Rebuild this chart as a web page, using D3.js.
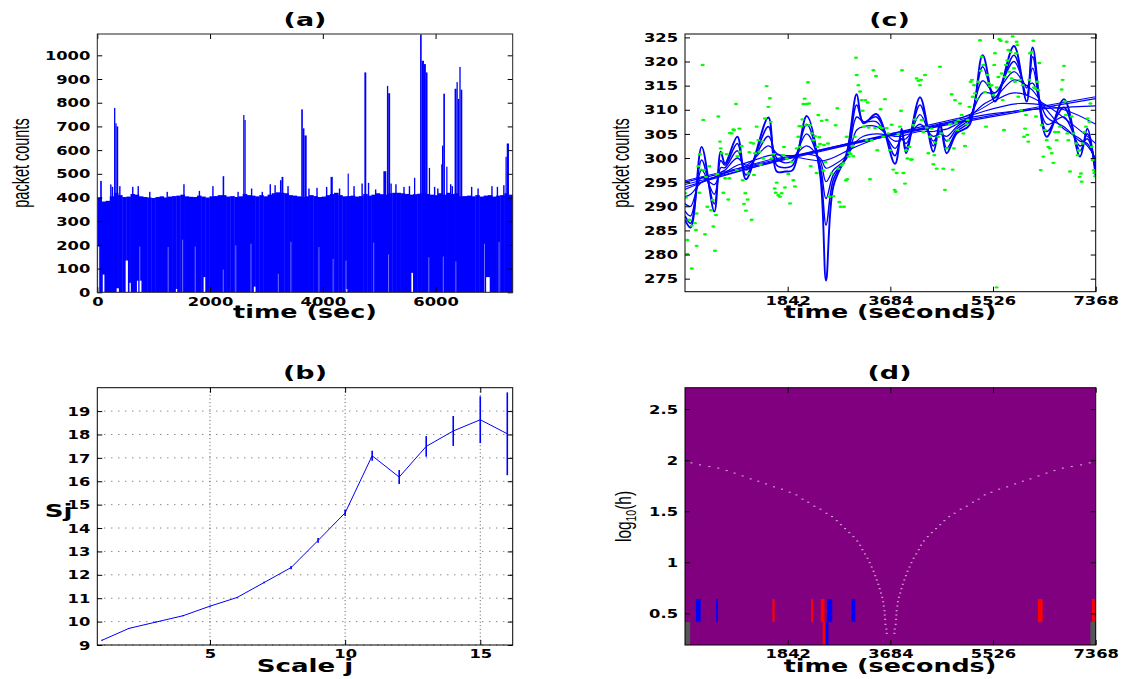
<!DOCTYPE html>
<html><head><meta charset="utf-8">
<script src="https://cdn.jsdelivr.net/npm/d3@7"></script>
<style>body{margin:0;background:#fff}</style>
</head><body><svg id="chart" width="1146" height="679"></svg>
<script>
// ================= DATA =================
// (a) packet counts per second, summarised: envelope maxima per bin, thin peaks, spikes, gaps near zero
const aBinSeconds = 73.68;
const aEnvelope = [
 400,383,386,405,420,410,402,404,415,412,
 405,402,400,398,402,405,400,404,406,408,
 412,405,403,402,408,404,400,405,406,410,
 410,404,406,402,405,415,410,408,405,410,
 405,412,418,422,420,418,410,408,405,402,
 405,410,406,402,404,410,415,420,410,405,
 406,408,404,406,415,408,412,418,414,412,
 418,420,420,418,415,412,414,416,420,415,
 412,410,418,412,420,415,418,405,406,408,
 405,410,404,408,410,404,408,410,418,412];
const aPeaks = [ // [t, count] narrow peaks on top of the dense band
 [240,455],[269,445],[400,448],[629,445],[726,448],[931,424],[1240,424],[1537,456],[1811,428],
 [2051,448],[2497,424],[2737,438],[2926,424],[3068,456],[3154,452],[3383,448],[3754,438],[3897,441],
 [4068,445],[4297,438],[4554,448],[4697,459],[4811,462],[4937,434],[5211,459],[5297,456],[5440,445],
 [5537,448],[5983,445],[6040,438],[6268,456],[6297,448],[6640,445],[6754,438],[7000,448],[7097,445],[7211,452]];
const aSpikes = [ // [t0, t1, count]
 [51,80,470],[297,320,778],[320,343,713],[343,371,700],[2223,2251,490],
 [2588,2610,748],[2610,2632,727],[3240,3268,473],[3268,3300,487],
 [3617,3646,772],[3646,3674,692],[3674,3714,662],[4137,4177,487],[4440,4457,501],
 [4737,4771,928],[5074,5126,511],[5137,5160,871],[5160,5194,840],[5617,5640,483],
 [5725,5754,1088],[5754,5794,977],[5794,5828,963],[5828,5857,928],[5880,5903,525],
 [6100,6114,540],[6114,6137,619],[6137,6166,838],[6189,6211,530],
 [6337,6371,859],[6371,6394,887],[6394,6422,816],[6422,6445,951],[6445,6474,855],
 [7240,7262,572],[7262,7302,628]];
const aGaps = [ // [t0, t1, lowest count] : columns that never go down to zero
 [14,34,193],[97,126,75],[343,383,17],[503,543,134],[571,594,40],[703,726,49],
 [754,783,49],[1394,1417,14],[1886,1914,64],[2777,2806,24],[4417,4434,14],
 [5571,5600,82],[6897,6960,64]];
const aThinGaps = [ // [t, lowest count]
 [754,193],[1257,191],[1514,222],[1737,193],[2234,96],[2457,198],[2726,205],
 [3211,78],[3434,213],[3931,191],[4183,141],[4411,134],[4903,210],[5166,160],
 [5880,148],[6137,151],[6360,130],[6868,205],[7126,213]];
const aXTicks = [0,2000,4000,6000];
const aYTicks = [0,100,200,300,400,500,600,700,800,900,1000];

// (b) scale j vs Sj with error bars
const bScale = [1,2,3,4,5,6,7,8,9,10,11,12,13,14,15,16];
const bSj    = [9.2,9.71,9.98,10.25,10.66,11.03,11.67,12.31,13.47,14.65,17.09,16.18,17.49,18.15,18.63,18.03];
const bErr   = [0.02,0.02,0.02,0.02,0.02,0.02,0.03,0.07,0.1,0.14,0.21,0.3,0.44,0.64,1.0,1.77];
const bXTicks = [5,10,15];
const bYTicks = [9,10,11,12,13,14,15,16,17,18,19];

// (c) binned packet counts (green) and family of smooths (blue)
const cDots = [
 [0,292.7],[18,291.8],[42,283.0],[42,280.1],[120,277.1],[209,281.8],[197,285.1],[78,287.2],[120,286.0],[179,286.5],
 [209,288.5],[239,298.3],[257,292.8],[269,300.8],[281,297.6],[317,319.3],[329,307.9],[341,297.5],[359,284.2],[377,296.1],
 [401,289.9],[437,298.3],[466,289.2],[496,291.3],[508,285.8],[538,280.8],[556,288.2],[580,296.7],[598,308.6],[628,303.4],
 [640,302.0],[658,301.0],[688,292.8],[718,295.8],[748,300.8],[777,291.4],[795,295.8],[807,305.2],[837,305.1],[867,305.9],
 [879,305.8],[915,311.2],[927,297.5],[939,300.4],[975,306.1],[987,301.3],[1017,302.5],[1035,295.4],[1058,290.5],[1082,292.7],
 [1094,289.1],[1124,291.4],[1136,296.8],[1154,301.2],[1178,303.2],[1196,287.2],[1226,303.0],[1238,296.5],[1256,301.0],[1286,306.5],
 [1316,303.7],[1334,301.3],[1357,298.6],[1387,303.4],[1405,299.9],[1435,308.2],[1465,314.9],[1495,310.6],[1525,312.4],[1537,307.5],
 [1555,299.9],[1585,300.8],[1609,293.7],[1627,292.8],[1645,294.9],[1674,292.3],[1704,292.0],[1734,292.7],[1764,300.6],[1776,302.3],
 [1794,293.9],[1824,299.9],[1854,296.7],[1884,290.6],[1914,299.2],[1944,295.4],[1973,294.1],[2003,302.0],[2033,304.4],[2051,306.6],
 [2063,302.3],[2087,306.6],[2105,308.0],[2123,311.2],[2147,312.3],[2171,306.8],[2183,311.2],[2207,315.7],[2225,311.3],[2243,306.8],
 [2254,298.3],[2278,305.1],[2302,303.7],[2332,304.5],[2362,296.9],[2374,302.3],[2392,308.9],[2410,304.3],[2422,302.9],[2452,307.7],
 [2482,297.4],[2494,302.7],[2518,299.2],[2542,307.9],[2565,303.0],[2589,292.0],[2631,296.8],[2661,292.1],[2703,306.8],[2733,310.3],
 [2751,297.8],[2769,290.9],[2793,289.9],[2811,298.5],[2841,298.9],[2852,289.9],[2888,295.4],[2900,304.4],[2912,295.6],[2936,300.3],
 [2948,301.1],[2972,300.8],[3002,302.5],[3020,300.4],[3044,304.4],[3068,320.8],[3080,317.2],[3110,315.1],[3140,313.8],[3169,312.0],
 [3187,309.8],[3211,306.5],[3235,312.0],[3259,303.7],[3277,311.5],[3295,306.3],[3319,295.6],[3349,303.7],[3379,318.2],[3409,306.2],
 [3427,317.0],[3450,301.6],[3486,306.5],[3510,310.1],[3534,306.2],[3558,304.4],[3588,312.2],[3618,306.2],[3648,305.1],[3678,301.6],
 [3708,306.9],[3738,297.6],[3761,293.4],[3779,293.0],[3797,296.9],[3827,305.0],[3857,306.5],[3875,309.8],[3893,318.2],[3917,296.9],
 [3947,294.7],[3965,301.6],[3989,299.9],[4025,302.3],[4048,299.7],[4072,299.7],[4096,306.8],[4126,308.0],[4156,316.5],[4186,316.0],
 [4216,315.1],[4234,316.2],[4246,307.9],[4276,305.4],[4306,317.2],[4336,306.3],[4365,301.0],[4395,304.4],[4425,306.1],[4455,298.7],
 [4473,300.6],[4485,303.2],[4515,297.8],[4545,304.4],[4575,318.9],[4605,305.1],[4635,297.8],[4664,293.4],[4694,302.0],[4724,303.7],
 [4754,307.0],[4784,313.2],[4802,297.6],[4826,302.0],[4844,312.0],[4862,307.2],[4886,305.8],[4904,307.9],[4934,311.3],[4963,308.9],
 [4993,305.1],[5023,302.5],[5053,307.0],[5071,307.9],[5101,310.6],[5125,315.8],[5149,316.2],[5161,312.7],[5185,315.1],[5203,313.4],
 [5233,312.2],[5262,315.8],[5292,324.4],[5304,318.1],[5322,321.0],[5352,319.3],[5382,313.7],[5400,306.5],[5424,317.2],[5442,315.5],
 [5472,314.9],[5502,315.1],[5532,313.0],[5549,319.3],[5561,321.7],[5591,314.6],[5621,316.8],[5639,324.6],[5663,324.3],[5681,317.5],
 [5699,312.0],[5723,305.8],[5741,316.8],[5759,319.3],[5771,324.1],[5783,320.2],[5801,322.4],[5819,317.9],[5842,322.0],[5860,316.5],
 [5878,325.2],[5902,318.6],[5920,315.8],[5938,321.7],[5950,324.1],[5962,323.4],[5980,312.7],[6010,316.2],[6028,309.9],[6058,315.1],
 [6082,304.4],[6100,306.1],[6118,308.9],[6141,304.8],[6159,303.4],[6177,316.2],[6189,321.7],[6219,322.0],[6249,324.3],[6261,314.6],
 [6279,314.4],[6297,308.6],[6321,315.8],[6339,314.1],[6357,319.7],[6381,297.5],[6399,306.8],[6428,300.3],[6458,305.8],[6488,303.7],
 [6518,302.3],[6548,302.0],[6578,301.0],[6608,299.0],[6638,305.4],[6668,303.7],[6698,305.4],[6728,306.5],[6757,314.2],[6775,316.2],
 [6799,319.1],[6817,311.7],[6835,308.9],[6859,305.1],[6877,303.7],[6907,297.2],[6937,308.6],[6967,305.1],[7015,303.0],[7044,300.6],
 [7062,301.6],[7080,296.1],[7104,296.8],[7116,295.1],[7134,303.0],[7164,305.4],[7194,306.5],[7224,308.2],[7254,307.5],[7272,311.3],
 [7296,302.3],[7314,299.6],[7332,297.5],[7344,296.9],[7356,296.2],[5591,273.2]];
const cFitTime = [0,102,299,526,640,718,939,1094,1495,1645,1794,1932,2183,2422,2530,2661,2900,3080,3199,3438,3767,3887,3965,4216,4455,4575,4694,4874,5101,5340,5561,5902,6130,6237,6488,6799,7086,7218,7368];
const cFit1 = [287.2,285.6,302.3,288.9,301.3,298.9,304.4,295.6,308.4,297.2,297.2,297.5,308.7,296.8,274.6,294.1,301.0,313.2,307.2,309.1,298.8,306.1,301.0,312.6,301.3,307.2,301.0,305.1,306.8,321.3,311.7,323.2,311.7,322.9,304.4,312.2,300.3,306.1,296.1];
const cFit2 = [288.0,286.5,299.6,290.5,299.5,298.5,303.0,296.5,306.5,298.5,298.0,298.5,307.0,297.5,286.1,295.5,300.5,311.0,307.5,308.5,300.5,305.0,302.0,311.0,302.5,306.5,302.0,305.5,307.5,318.9,312.5,321.3,313.0,321.0,305.5,310.5,301.5,305.0,297.0];
const cFit3 = [289.0,288.0,297.5,292.5,298.0,298.0,301.5,297.5,304.5,300.0,299.0,299.5,305.0,298.5,291.6,296.5,300.0,308.5,307.5,307.5,302.0,304.0,303.0,309.0,303.5,305.5,303.5,306.0,308.0,316.0,313.5,320.0,314.5,318.6,307.0,308.5,302.5,304.0,298.0];
const cFit4 = [290.5,290.0,296.0,294.5,297.0,297.5,300.0,298.5,302.5,301.0,300.0,300.2,302.5,299.5,295.1,297.5,300.0,305.8,306.5,306.5,303.5,303.8,304.0,307.0,304.5,305.0,304.5,306.5,308.5,313.5,313.5,317.9,315.0,315.5,308.5,306.5,303.5,303.0,299.0];
const cFit5 = [292.0,292.5,295.0,296.0,296.5,297.0,298.5,299.0,300.5,300.7,300.5,300.5,300.8,300.0,297.9,298.5,300.5,303.5,304.5,305.0,304.5,304.5,304.8,305.5,305.5,305.8,306.0,307.0,308.5,311.0,312.5,316.2,315.0,314.0,310.0,306.0,304.0,302.5,300.0];
const cBroad6Time = [0,1000,1842,2500,3000,3684,4500,5200,5900,6400,7000,7368];
const cBroad6 = [293.5,298,300.2,299.5,302,305,306.5,309.5,313.5,311.5,306.5,303];
const cBroad7Time = [0,1842,3684,5000,6000,6800,7368];
const cBroad7 = [294,300,305,308.5,311.3,310,307];
const cBroad8Time = [0,1842,3684,5526,7368];
const cBroad8 = [294.5,299.8,304.7,309.2,310.8];
const cLineTime = [0,3684,7368];
const cLine9 = [295,304.6,312.3];
const cLine10 = [295.3,304.8,312.7];
const cXTicks = [1842,3684,5526,7368];
const cYTicks = [275,280,285,290,295,300,305,310,315,320,325];

// (d) SiZer map
const dRows = [[0.19,0.415],[0.415,0.64]];           // log10(h) extent of the coloured rows
const dCells = [ // [t0, t1, row, status]
 [195,281,1,"inc"],[557,592,1,"inc"],[1568,1608,1,"dec"],[2263,2298,1,"dec"],[2435,2504,1,"dec"],
 [2550,2642,1,"inc"],[2987,3056,1,"inc"],[6330,6416,1,"dec"],[7300,7352,1,"dec"],
 [0,92,0,"sparse"],[2470,2522,0,"dec"],[2522,2573,0,"inc"],[7272,7368,0,"sparse"]];
const dLeftBranch = [
 [115,1.974],[270,1.954],[437,1.938],[597,1.922],[747,1.899],[890,1.873],[1034,1.846],[1178,1.817],[1315,1.794],[1453,1.768],
 [1597,1.739],[1740,1.716],[1878,1.686],[1999,1.660],[2108,1.618],[2211,1.588],[2321,1.549],[2430,1.520],[2539,1.480],[2637,1.448],
 [2723,1.408],[2797,1.369],[2872,1.330],[2947,1.291],[3021,1.252],[3090,1.209],[3142,1.167],[3182,1.124],[3228,1.082],[3274,1.039],
 [3314,0.997],[3349,0.954],[3383,0.912],[3412,0.869],[3441,0.827],[3469,0.784],[3492,0.742],[3515,0.699],[3538,0.657],[3556,0.614],
 [3567,0.572],[3579,0.526],[3584,0.484],[3590,0.441],[3596,0.392],[3613,0.346],[3619,0.304]];
const dRightBranch = [
 [7261,1.974],[7106,1.954],[6939,1.938],[6779,1.922],[6629,1.899],[6486,1.873],[6342,1.846],[6198,1.817],[6061,1.794],[5923,1.768],
 [5779,1.739],[5636,1.716],[5498,1.686],[5377,1.660],[5268,1.618],[5165,1.588],[5055,1.549],[4946,1.520],[4837,1.480],[4739,1.448],
 [4653,1.408],[4579,1.369],[4504,1.330],[4429,1.291],[4355,1.252],[4286,1.209],[4234,1.167],[4194,1.124],[4148,1.082],[4102,1.039],
 [4062,0.997],[4027,0.954],[3993,0.912],[3964,0.869],[3935,0.827],[3907,0.784],[3884,0.742],[3861,0.699],[3838,0.657],[3820,0.614],
 [3809,0.572],[3797,0.526],[3792,0.484],[3786,0.441],[3780,0.392],[3763,0.346],[3757,0.304]];
const dXTicks = [1842,3684,5526,7368];
const dYTicks = [0.5,1,1.5,2,2.5];
const dColors = {inc:"#0000ff", dec:"#ff0000", sparse:"#555555"};

// ================= DRAWING =================
const svg = d3.select("#chart");
svg.append("rect").attr("width",1146).attr("height",679).attr("fill","#fff");
const defs = svg.append("defs");

const TICKFONT = {fam:"'DejaVu Sans'", size:11.5, sx:1.42};

function clip(id, box){
  defs.append("clipPath").attr("id",id).append("rect")
    .attr("x",box.l).attr("y",box.t).attr("width",box.r-box.l).attr("height",box.b-box.t);
  return `url(#${id})`;
}

function axes(g, box, x, y, xt, yt, xfmt, yfmt, frameColor){
  const fx = xfmt || d3.format("d"), fy = yfmt || d3.format("d");
  const gb = g.append("g").attr("transform",`translate(0,${box.b})`)
    .call(d3.axisBottom(x).tickValues(xt).tickSizeInner(-5).tickSizeOuter(0).tickFormat(fx));
  const gl = g.append("g").attr("transform",`translate(${box.l},0)`)
    .call(d3.axisLeft(y).tickValues(yt).tickSizeInner(-5).tickSizeOuter(0).tickFormat(fy));
  const gt = g.append("g").attr("transform",`translate(0,${box.t})`)
    .call(d3.axisTop(x).tickValues(xt).tickSizeInner(-5).tickSizeOuter(0).tickFormat(""));
  const gr = g.append("g").attr("transform",`translate(${box.r},0)`)
    .call(d3.axisRight(y).tickValues(yt).tickSizeInner(-5).tickSizeOuter(0).tickFormat(""));
  [gb,gl,gt,gr].forEach(a=>{ a.select(".domain").remove(); a.selectAll("line").attr("stroke","#000"); });
  gb.selectAll("text").attr("y",13.3).attr("dy",0)
    .style("font-family",TICKFONT.fam).style("font-weight","bold").style("font-size",TICKFONT.size+"px")
    .attr("fill","#000").attr("transform",`scale(${TICKFONT.sx},1)`);
  gl.selectAll("text").attr("x",-7/TICKFONT.sx).attr("dy","0.36em")
    .style("font-family",TICKFONT.fam).style("font-weight","bold").style("font-size",TICKFONT.size+"px")
    .attr("fill","#000").attr("transform",`scale(${TICKFONT.sx},1)`);
  g.append("rect").attr("x",box.l).attr("y",box.t).attr("width",box.r-box.l).attr("height",box.b-box.t)
    .attr("fill","none").attr("stroke",frameColor||"#000").attr("stroke-width",1);
}

function label(txt, x, y, o){
  return svg.append("text")
    .attr("transform",`translate(${x},${y}) rotate(${o.rot||0}) scale(${o.sx||1},1)`)
    .attr("text-anchor","middle")
    .style("font-family",o.fam||"'DejaVu Sans'").style("font-weight",o.weight||"bold")
    .style("font-size",(o.size||18)+"px").attr("fill","#000").text(txt);
}

// ---------- panel (a) ----------
const boxA = {l:97.3, r:512.7, t:34, b:292.3};
const xA = d3.scaleLinear().domain([0,7368]).range([boxA.l,boxA.r]);
const yA = d3.scaleLinear().domain([0,1090]).range([boxA.b,boxA.t]);
const gA = svg.append("g");
const gAd = gA.append("g").attr("clip-path",clip("clipA",boxA));
gAd.selectAll("rect.env").data(aEnvelope).join("rect").attr("class","env")
  .attr("x",(d,i)=>xA(i*aBinSeconds)).attr("width",(d,i)=>xA((i+1)*aBinSeconds)-xA(i*aBinSeconds)+0.4)
  .attr("y",d=>yA(d)).attr("height",d=>yA(0)-yA(d)).attr("fill","#0000ff");
gAd.selectAll("rect.pk").data(aPeaks).join("rect").attr("class","pk")
  .attr("x",d=>xA(d[0])-0.7).attr("width",1.4)
  .attr("y",d=>yA(d[1])).attr("height",d=>yA(0)-yA(d[1])).attr("fill","#0000ff");
gAd.selectAll("rect.spk").data(aSpikes).join("rect").attr("class","spk")
  .attr("x",d=>xA(d[0])).attr("width",d=>Math.max(1.2,xA(d[1])-xA(d[0])))
  .attr("y",d=>yA(d[2])).attr("height",d=>yA(0)-yA(d[2])).attr("fill","#0000ff");
gAd.selectAll("rect.gap").data(aGaps).join("rect").attr("class","gap")
  .attr("x",d=>xA(d[0])).attr("width",d=>Math.max(1,xA(d[1])-xA(d[0])))
  .attr("y",d=>yA(d[2])).attr("height",d=>yA(0)-yA(d[2])+1).attr("fill","#fff");
gAd.selectAll("line.tgap").data(aThinGaps).join("line").attr("class","tgap")
  .attr("x1",d=>xA(d[0])).attr("x2",d=>xA(d[0])).attr("y1",d=>yA(d[1])).attr("y2",yA(0))
  .attr("stroke","#fff").attr("stroke-opacity",0.55).attr("stroke-width",0.8);
axes(gA, boxA, xA, yA, aXTicks, aYTicks, null, null, "#222");

// ---------- panel (c) ----------
const boxC = {l:685, r:1095.7, t:34, b:291.7};
const xC = d3.scaleLinear().domain([0,7368]).range([boxC.l,boxC.r]);
const yC = d3.scaleLinear().domain([272.3,325.7]).range([boxC.b,boxC.t]);
const gC = svg.append("g");
const gCd = gC.append("g").attr("clip-path",clip("clipC",boxC));
const lineC = d3.line().x(d=>xC(d[0])).y(d=>yC(d[1])).curve(d3.curveCatmullRom.alpha(0.5));
const curves = [
  [cBroad6Time,cBroad6,1.1],[cBroad7Time,cBroad7,1.1],[cBroad8Time,cBroad8,1.1],
  [cLineTime,cLine9,1.1],[cLineTime,cLine10,1.1],
  [cFitTime,cFit5,1.2],[cFitTime,cFit4,1.3],[cFitTime,cFit3,1.4],[cFitTime,cFit2,1.6],[cFitTime,cFit1,1.9]];
curves.forEach(([ts,vs,w])=>{
  gCd.append("path").datum(ts.map((t,i)=>[t,vs[i]])).attr("d",lineC)
    .attr("fill","none").attr("stroke","#0000ff").attr("stroke-width",w);
});
gCd.selectAll("ellipse.dot").data(cDots).join("ellipse").attr("class","dot")
  .attr("cx",d=>xC(d[0])).attr("cy",d=>yC(d[1])).attr("rx",2.1).attr("ry",1.2).attr("fill","#00ff00");
axes(gC, boxC, xC, yC, cXTicks, cYTicks);

// ---------- panel (b) ----------
const boxB = {l:97.3, r:512.7, t:387.7, b:645};
const xB = d3.scaleLinear().domain([0.83,16.2]).range([boxB.l,boxB.r]);
const yB = d3.scaleLinear().domain([9,20]).range([boxB.b,boxB.t]);
const gB = svg.append("g");
gB.selectAll("line.gx").data(bXTicks).join("line").attr("class","gx")
  .attr("x1",d=>xB(d)).attr("x2",d=>xB(d)).attr("y1",boxB.t).attr("y2",boxB.b)
  .attr("stroke","#444").attr("stroke-width",0.9).attr("stroke-dasharray","1,2.6");
gB.selectAll("line.gy").data(bYTicks).join("line").attr("class","gy")
  .attr("x1",boxB.l).attr("x2",boxB.r).attr("y1",d=>yB(d)).attr("y2",d=>yB(d))
  .attr("stroke","#444").attr("stroke-width",0.9).attr("stroke-dasharray","1,6");
const bData = bScale.map((j,i)=>({j, s:bSj[i], e:bErr[i]}));
gB.append("path").datum(bData).attr("d",d3.line().x(d=>xB(d.j)).y(d=>yB(d.s)))
  .attr("fill","none").attr("stroke","#0000ff").attr("stroke-width",1);
gB.selectAll("line.err").data(bData).join("line").attr("class","err")
  .attr("x1",d=>xB(d.j)).attr("x2",d=>xB(d.j)).attr("y1",d=>yB(d.s-d.e)).attr("y2",d=>yB(d.s+d.e))
  .attr("stroke","#0000ff").attr("stroke-width",1.6);
axes(gB, boxB, xB, yB, bXTicks, bYTicks);

// ---------- panel (d) ----------
const boxD = {l:685, r:1095.7, t:387.7, b:645};
const xD = d3.scaleLinear().domain([0,7368]).range([boxD.l,boxD.r]);
const yD = d3.scaleLinear().domain([0.19,2.71]).range([boxD.b,boxD.t]);
const gD = svg.append("g");
const gDd = gD.append("g").attr("clip-path",clip("clipD",boxD));
gDd.append("rect").attr("x",boxD.l).attr("y",boxD.t).attr("width",boxD.r-boxD.l).attr("height",boxD.b-boxD.t).attr("fill","#800080");
gDd.selectAll("rect.cell").data(dCells).join("rect").attr("class","cell")
  .attr("x",d=>xD(d[0])).attr("width",d=>xD(d[1])-xD(d[0]))
  .attr("y",d=>yD(dRows[d[2]][1])).attr("height",d=>yD(dRows[d[2]][0])-yD(dRows[d[2]][1]))
  .attr("fill",d=>dColors[d[3]]);
gDd.selectAll("rect.wd").data(dLeftBranch.concat(dRightBranch)).join("rect").attr("class","wd")
  .attr("x",d=>xD(d[0])-1).attr("y",d=>yD(d[1])-0.6).attr("width",2).attr("height",1.2)
  .attr("fill","#cf9bcf");
axes(gD, boxD, xD, yD, dXTicks, dYTicks, null, d3.format("~g"));

// ---------- titles & labels ----------
label("(a)", 305, 25.5, {size:18, sx:1.5});
label("(c)", 889.5, 25.5, {size:18, sx:1.5});
label("(b)", 305, 379, {size:18, sx:1.5});
label("(d)", 889.5, 379, {size:18, sx:1.5});
label("time (sec)", 305, 318, {size:18, sx:1.41});
label("time (seconds)", 890, 318, {size:18, sx:1.41});
label("Scale j", 305, 671.5, {size:18, sx:1.45});
label("time (seconds)", 890, 671.5, {size:18, sx:1.41});
label("packet counts", 29, 163, {rot:-90, sx:0.63, size:23, weight:"normal", fam:"'Liberation Sans'"});
label("packet counts", 629, 163, {rot:-90, sx:0.63, size:23, weight:"normal", fam:"'Liberation Sans'"});
label("Sj", 58.5, 516.5, {size:18, sx:1.45});
const lg = svg.append("text")
  .attr("transform","translate(631,516.5) rotate(-90) scale(0.7,1)")
  .attr("text-anchor","middle").style("font-family","'Liberation Sans'").style("font-size","22px").attr("fill","#000");
lg.append("tspan").text("log");
lg.append("tspan").attr("baseline-shift","-30%").style("font-size","15px").text("10");
lg.append("tspan").text("(h)");
</script></body></html>
